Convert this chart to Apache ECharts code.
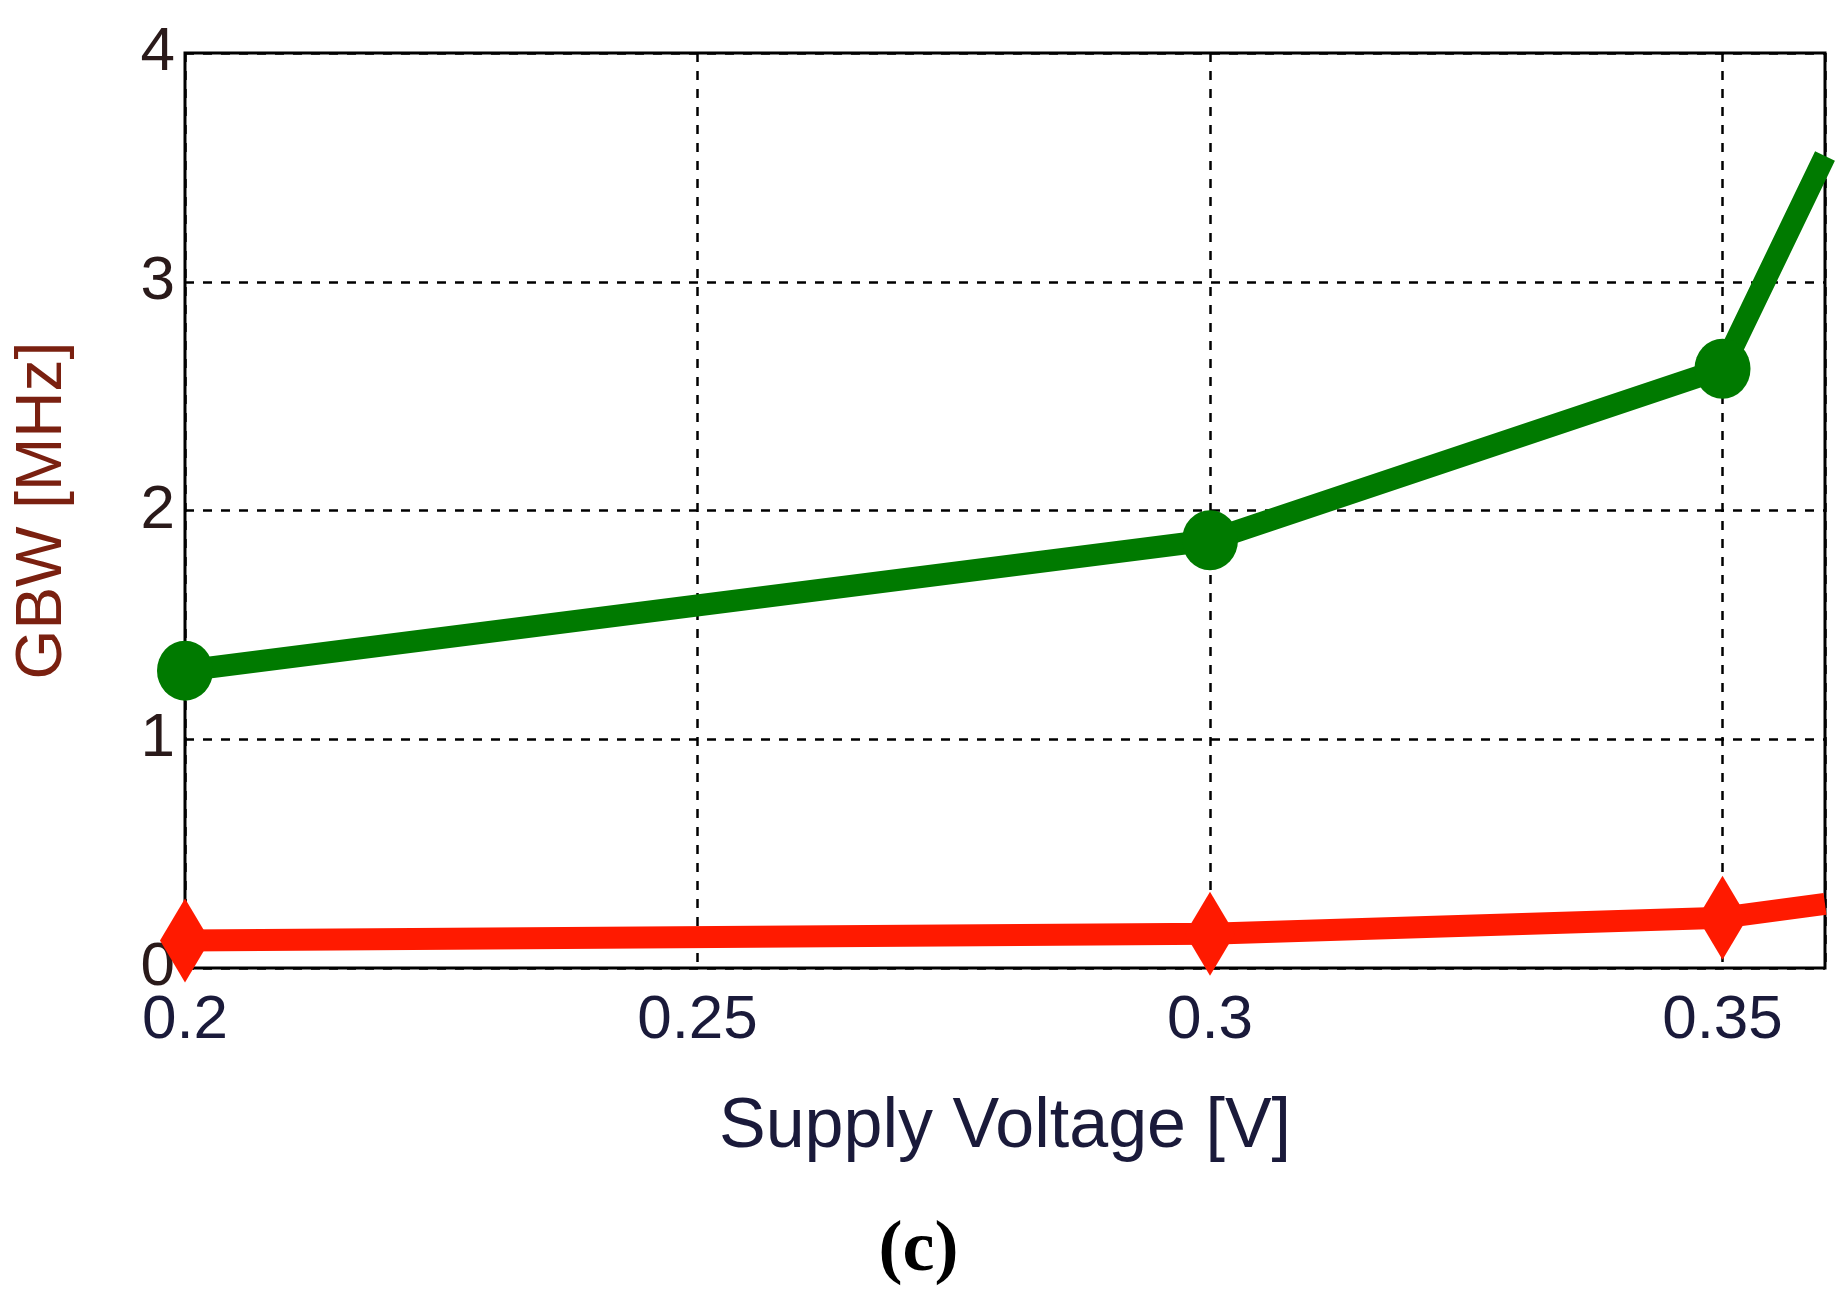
<!DOCTYPE html>
<html><head><meta charset="utf-8">
<script src="https://cdn.jsdelivr.net/npm/echarts@6/dist/echarts.min.js"></script>
<style>html,body{margin:0;padding:0;background:#fff}#c{width:1837px;height:1312px}</style>
</head><body><div id="c"></div>
<script>
const voltages = [0.2, 0.3, 0.35, 0.36];
const greenGBW = [1.3, 1.87, 2.62, 3.55];
const redGBW = [0.12, 0.15, 0.22, 0.28];
const xTicks = [0.2, 0.25, 0.3, 0.35];
const yTicks = [0, 1, 2, 3, 4];

const chart = echarts.init(document.getElementById('c'));
const dash = {show:true, lineStyle:{color:'#000', type:[9,9], width:2.5}};
const pts = (ys, sym) => voltages.map((v,i)=>({value:[v,ys[i]], symbol: i===voltages.length-1 ? 'none' : sym}));
chart.setOption({
  animation:false,
  grid:{left:185, right:12, top:53, bottom:344, show:true, borderColor:'#000', borderWidth:3,
    outerBoundsMode:'none', containLabel:false},
  xAxis:{type:'value', min:0.2, max:0.36, interval:0.05,
    axisLine:{show:false}, axisTick:{show:false}, splitLine:dash,
    axisLabel:{showMaxLabel:false, fontSize:62, color:'#1a1a3a', margin:22, fontFamily:'Liberation Sans',
      formatter:v=>xTicks.includes(+v.toFixed(2))?String(+v.toFixed(2)):''},
    name:'Supply Voltage [V]', nameLocation:'middle', nameGap:125,
    nameTextStyle:{fontSize:70, color:'#1a1a3a', fontFamily:'Liberation Sans'}},
  yAxis:{type:'value', min:0, max:4, interval:1,
    axisLine:{show:false}, axisTick:{show:false}, splitLine:dash,
    axisLabel:{fontSize:62, color:'#2a1a1a', margin:10, fontFamily:'Liberation Sans',
      formatter:v=>yTicks.includes(v)?String(v):''},
    name:'GBW [MHz]', nameLocation:'middle', nameGap:110,
    nameTextStyle:{fontSize:64, color:'#7a2010', fontFamily:'Liberation Sans'}},
  series:[
    {type:'line', data:pts(greenGBW,'circle'), symbolSize:[56,60],
      lineStyle:{color:'#007a00', width:22}, itemStyle:{color:'#007a00'}, clip:false},
    {type:'line', data:pts(redGBW,'diamond'), symbolSize:[50,84],
      lineStyle:{color:'#ff1a00', width:22}, itemStyle:{color:'#ff1a00'}, clip:false}
  ],
  graphic:[{type:'text', left:'center', top:1215, style:{text:'(c)', font:'bold 72px "Liberation Serif"', fill:'#000'}}]
});
</script></body></html>
